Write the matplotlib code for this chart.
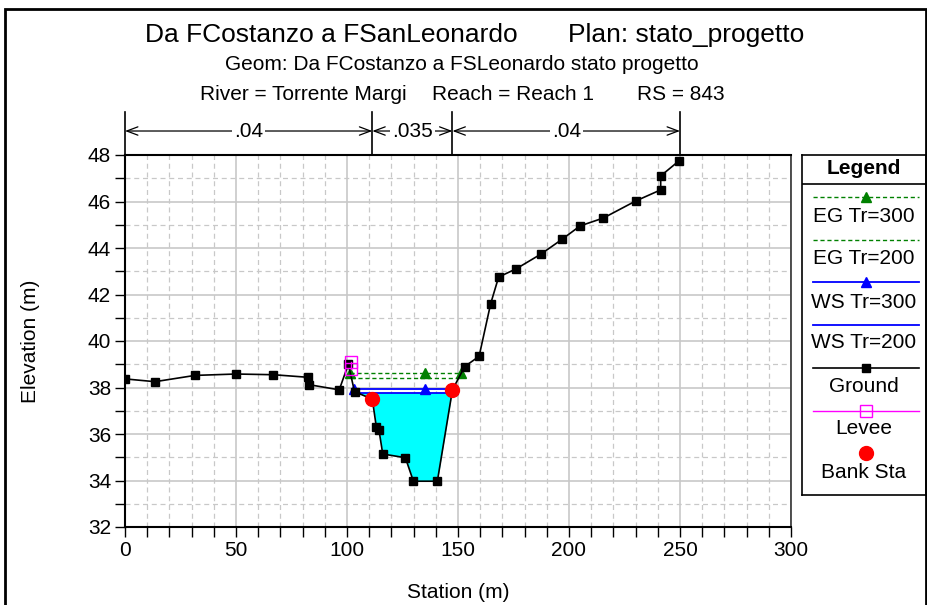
import matplotlib
matplotlib.use('Agg')
import matplotlib.pyplot as plt
import matplotlib.transforms as mtransforms
from matplotlib.patches import Rectangle
from matplotlib.lines import Line2D
import numpy as np

plt.rcParams['font.family'] = ['Liberation Sans', 'DejaVu Sans']

# ground profile
ground_sta = [0, 13.5, 31.5, 50.0, 66.8, 82.3, 83.0, 96.5, 100.6, 103.4, 111.4, 113.2,
              114.4, 116.1, 126.3, 129.9, 140.7, 147.5, 153.0, 159.5, 164.7, 168.3,
              176.3, 187.4, 196.8, 205.0, 215.5, 230.0, 241.3, 241.3, 249.7]
ground_elev = [38.37, 38.25, 38.52, 38.58, 38.55, 38.44, 38.12, 37.90, 39.00, 37.82, 37.50, 36.31,
               36.17, 35.14, 34.98, 33.97, 33.97, 37.90, 38.90, 39.34, 41.60, 42.75,
               43.11, 43.74, 44.37, 44.95, 45.29, 46.02, 46.50, 47.10, 47.76]

# water surface / energy grade
eg300_sta = [101.4, 135.3, 151.5]
eg300_elev = [38.62, 38.62, 38.62]
eg200_sta = [101.9, 150.4]
eg200_elev = [38.42, 38.42]
ws300_sta = [103.2, 135.3, 147.6]
ws300_elev = [37.92, 37.92, 37.92]
ws200_sta = [103.4, 147.3]
ws200_elev = [37.77, 37.77]

levee_sta = [101.6, 101.6]
levee_elev = [39.08, 38.78]
bank_sta = [111.4, 147.5]
bank_elev = [37.50, 37.90]

# manning n
n_bounds = [0, 111.4, 147.5, 250.0]
n_values = ['.04', '.035', '.04']

W, H = 928, 605
fig = plt.figure(figsize=(W / 100, H / 100), dpi=100)


def fx(px):
    return px / W


def fy(py):
    return 1 - py / H


ax = fig.add_axes([fx(125), fy(527), (791 - 125) / W, (527 - 155) / H])

# water fill under WS Tr=200
gs = np.array(ground_sta)
ge = np.array(ground_elev)
m = (gs >= ws200_sta[0]) & (gs <= bank_sta[1])
ax.fill_between(gs[m], ge[m], ws200_elev[0], where=ge[m] <= ws200_elev[0],
                interpolate=True, color='#00ffff', lw=0, zorder=2)

ax.plot(eg300_sta, eg300_elev, color='green', ls=(0, (3, 2)), lw=1, marker='^', ms=7, zorder=3)
ax.plot(eg200_sta, eg200_elev, color='green', ls=(0, (3, 2)), lw=1, zorder=3)
ax.plot(ws300_sta, ws300_elev, color='blue', lw=1.3, marker='^', ms=7, zorder=3)
ax.plot(ws200_sta, ws200_elev, color='blue', lw=1.3, zorder=3)
ax.plot(ground_sta, ground_elev, color='black', lw=1.2, marker='s', ms=6, zorder=4)
ax.plot(levee_sta, levee_elev, color='magenta', lw=1, marker='s', ms=9, mfc='none', mew=1, zorder=5)
ax.plot(bank_sta, bank_elev, ls='none', color='red', marker='o', ms=10, zorder=6)

ax.set_xlim(0, 300)
ax.set_ylim(32, 48)
ax.set_xticks(np.arange(0, 301, 50))
ax.set_xticks(np.arange(0, 301, 10), minor=True)
ax.set_yticks(np.arange(32, 49, 2))
ax.set_yticks(np.arange(32, 49, 1), minor=True)
ax.grid(which='major', color='#c8c8c8', lw=1.2, ls='-')
ax.grid(which='minor', color='#c8c8c8', lw=0.9, ls=(0, (4, 3)))
ax.set_axisbelow(True)
ax.tick_params(which='both', direction='out', length=7, width=1, labelsize=15, pad=3)

for side in ['left', 'bottom', 'top']:
    ax.spines[side].set_linewidth(1.5)
    ax.spines[side].set_color('black')
ax.spines['right'].set_linewidth(1.2)
ax.spines['right'].set_color('#333333')

ax.set_xlabel('Station (m)', fontsize=15)
ax.set_ylabel('Elevation (m)', fontsize=15)
ax.xaxis.set_label_coords(0.5, -0.15)
ax.yaxis.set_label_coords(-0.128, 0.5)

# manning n bar above axes
trans = mtransforms.blended_transform_factory(ax.transData, ax.transAxes)
for b in n_bounds:
    ax.plot([b, b], [1.0, 1.116], transform=trans, color='black', lw=1.2, clip_on=False)
for i, val in enumerate(n_values):
    x0, x1 = n_bounds[i], n_bounds[i + 1]
    ax.annotate('', xy=(x1, 1.0645), xytext=(x0, 1.0645), xycoords=trans, textcoords=trans,
                arrowprops=dict(arrowstyle='<->,head_length=0.8,head_width=0.3', color='black',
                                lw=0.9, shrinkA=0, shrinkB=0))
    ax.text((x0 + x1) / 2, 1.0645, val, transform=trans, ha='center', va='center', fontsize=15,
            bbox=dict(fc='white', ec='none', pad=1.5))

# titles
fig.text(fx(145), fy(35), 'Da FCostanzo a FSanLeonardo', fontsize=19, ha='left', va='center')
fig.text(fx(568), fy(35), 'Plan: stato_progetto', fontsize=19, ha='left', va='center')
fig.text(fx(461.5), fy(64), 'Geom: Da FCostanzo a FSLeonardo stato progetto', fontsize=15,
         ha='center', va='center')
fig.text(fx(200), fy(94), 'River = Torrente Margi', fontsize=15, ha='left', va='center')
fig.text(fx(432), fy(94), 'Reach = Reach 1', fontsize=15, ha='left', va='center')
fig.text(fx(637), fy(94), 'RS = 843', fontsize=15, ha='left', va='center')

# legend box
lg = fig.add_axes([fx(802), fy(495), (926 - 802) / W, (495 - 155) / H])
lg.set_xlim(802, 926)
lg.set_ylim(495, 155)
lg.set_xticks([])
lg.set_yticks([])
for s in lg.spines.values():
    s.set_linewidth(1.2)
lg.text(864, 168, 'Legend', fontsize=15, fontweight='bold', ha='center', va='center')
lg.plot([802, 926], [184, 184], color='black', lw=1.2)

entries = [
    ('EG Tr=300', dict(color='green', ls=(0, (3, 2)), lw=1, marker='^', ms=7), 197, 217),
    ('EG Tr=200', dict(color='green', ls=(0, (3, 2)), lw=1), 240, 259),
    ('WS Tr=300', dict(color='blue', lw=1.3, marker='^', ms=7), 282, 302),
    ('WS Tr=200', dict(color='blue', lw=1.3), 325, 343),
    ('Ground', dict(color='black', lw=1.2, marker='s', ms=6), 368, 387),
    ('Levee', dict(color='magenta', lw=1, marker='s', ms=9, mfc='none'), 411, 429),
    ('Bank Sta', dict(color='red', ls='none', marker='o', ms=10), 453, 472),
]
for label, style, ly, ty in entries:
    lg.add_line(Line2D([813, 866, 919], [ly, ly, ly], markevery=[1], **style))
    lg.text(864, ty, label, fontsize=15, ha='center', va='center')

# outer frame
fig.add_artist(Rectangle((fx(5), fy(620)), fx(926) - fx(5), fy(9) - fy(620),
                         transform=fig.transFigure, fill=False, ec='black', lw=2))

fig.savefig('out.png', dpi=100)
